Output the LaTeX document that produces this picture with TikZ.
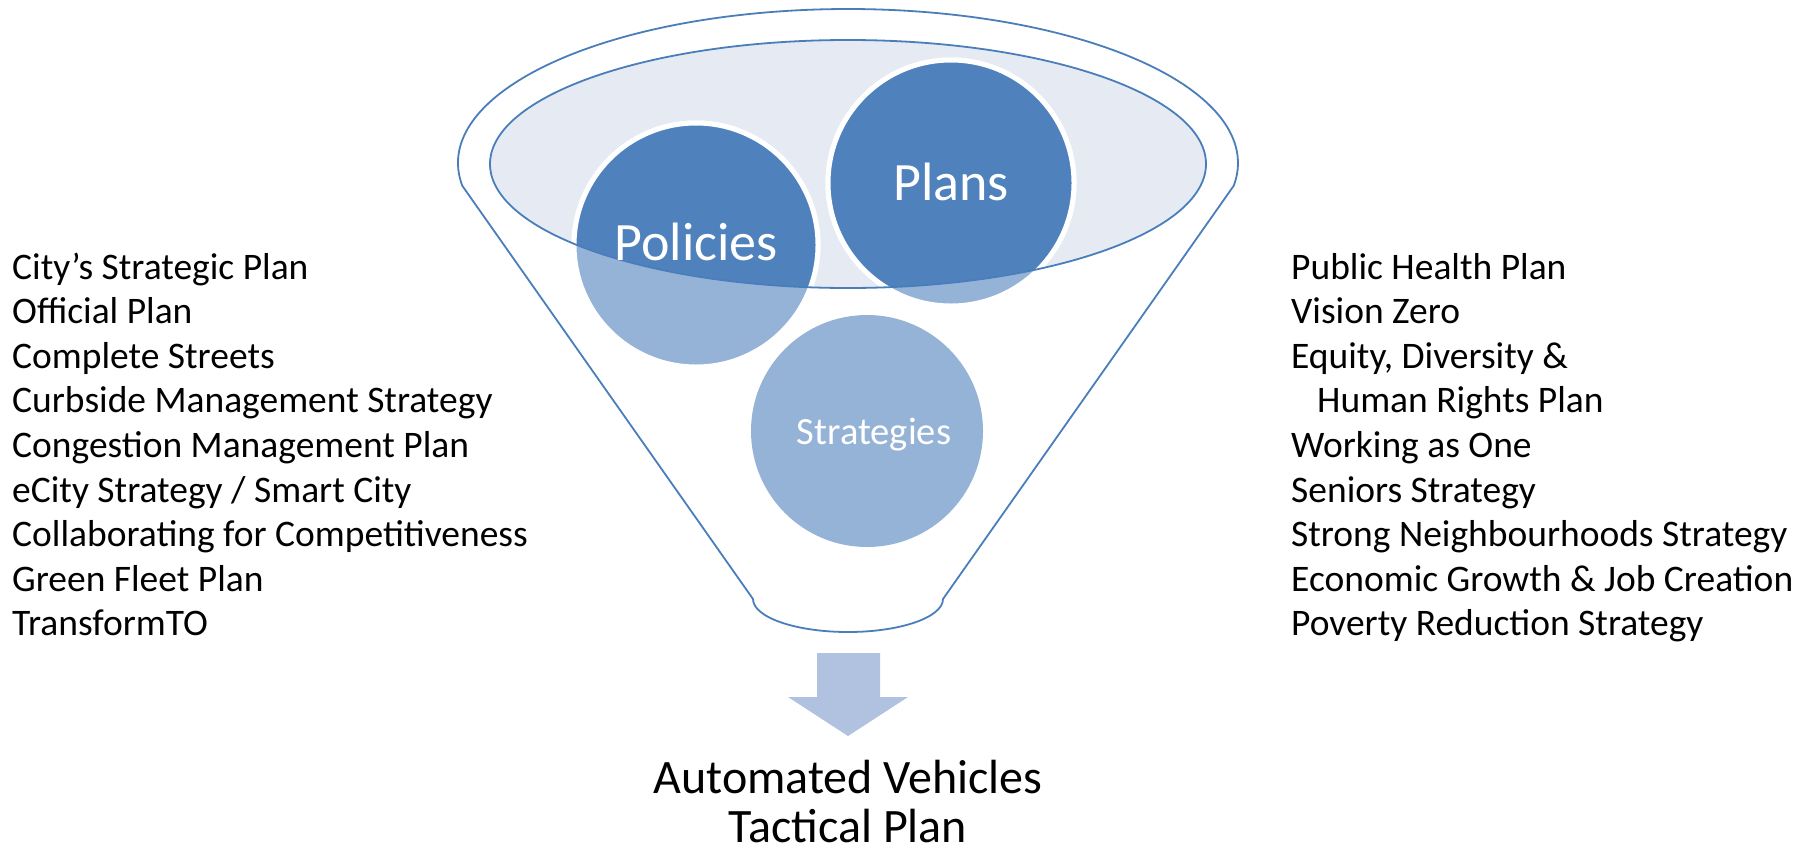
\documentclass[tikz,border=0pt]{standalone}
\usepackage{fontspec}
\setmainfont{Carlito}
\usetikzlibrary{calc}
\definecolor{dk}{HTML}{4F81BD}
\definecolor{lt}{HTML}{95B3D7}
\definecolor{ellfill}{HTML}{E5EAF3}
\definecolor{ln}{HTML}{4A7EBB}
\definecolor{arr}{HTML}{B0C2DF}
\begin{document}
\begin{tikzpicture}[x=1pt,y=1pt,
  rim/.style={draw=ln,line width=1.8pt},
  bubble/.style={circle,fill=lt,draw=white,line width=5pt,inner sep=0pt,minimum size=#1},
  darkbubble/.style={fill=dk,draw=white,line width=5pt},
  listtext/.style={anchor=base west,inner sep=0pt,font=\fontsize{37.5}{44}\selectfont},
  bubtext/.style={anchor=base,inner sep=0pt,text=white},
  outtext/.style={anchor=base,inner sep=0pt,font=\fontsize{48}{52}\selectfont}]
\useasboundingbox (0,0) rectangle (1798,-849);
% funnel outline
\draw[rim,line join=round] (753,-599) -- ($(848,-163)+(188.5:390 and 154)$)
  arc[start angle=188.5,end angle=-8.5,x radius=390,y radius=154]
  -- (943,-599) arc[start angle=0,end angle=-180,x radius=95,y radius=33] -- cycle;
% inner ellipse fill
\fill[ellfill] (848,-164) ellipse[x radius=358,y radius=124];
% circles (light)
\node[bubble=244] (pol) at (696,-245) {};
\node[bubble=246] (pla) at (951,-183) {};
\node[circle,fill=lt,inner sep=0pt,minimum size=232] (str) at (867,-431) {};
% dark parts inside the ellipse
\begin{scope}
  \clip (848,-164) ellipse[x radius=358,y radius=124];
  \path[darkbubble] (pol.center) circle[radius=122];
  \path[darkbubble] (pla.center) circle[radius=123];
\end{scope}
\draw[rim] (848,-164) ellipse[x radius=358,y radius=124];
% circle labels
\node[bubtext,font=\fontsize{54}{60}\selectfont] (polt) at (696,-260) {Policies};
\node[bubtext,font=\fontsize{54}{60}\selectfont] (plat) at (951,-200) {Plans};
\node[bubtext,font=\fontsize{38.5}{44}\selectfont] (strt) at (874,-444) {Strategies};
% arrow
\fill[arr] (817,-653) -- (880,-653) -- (880,-697) -- (908,-697) -- (848,-736)
  -- (788,-697) -- (817,-697) -- cycle;
% output text
\node[outtext] (out1) at (848,-793) {Automated Vehicles};
\node[outtext] (out2) at (848,-842) {Tactical Plan};
% left list
\node[listtext] (l1) at (12,-279) {City’s Strategic Plan};
\node[listtext] (l2) at (12,-323.6) {Official Plan};
\node[listtext] (l3) at (12,-368.2) {Complete Streets};
\node[listtext] (l4) at (12,-412.8) {Curbside Management Strategy};
\node[listtext] (l5) at (12,-457.4) {Congestion Management Plan};
\node[listtext] (l6) at (12,-502) {eCity Strategy / Smart City};
\node[listtext] (l7) at (12,-546.6) {Collaborating for Competitiveness};
\node[listtext] (l8) at (12,-591.2) {Green Fleet Plan};
\node[listtext] (l9) at (12,-635.8) {TransformTO};
% right list
\node[listtext] (r1) at (1291,-279) {Public Health Plan};
\node[listtext] (r2) at (1291,-323.6) {Vision Zero};
\node[listtext] (r3) at (1291,-368.2) {Equity, Diversity \&};
\node[listtext] (r4) at (1317,-412.8) {Human Rights Plan};
\node[listtext] (r5) at (1291,-457.4) {Working as One};
\node[listtext] (r6) at (1291,-502) {Seniors Strategy};
\node[listtext] (r7) at (1291,-546.6) {Strong Neighbourhoods Strategy};
\node[listtext] (r8) at (1291,-591.2) {Economic Growth \& Job Creation};
\node[listtext] (r9) at (1291,-635.8) {Poverty Reduction Strategy};
\end{tikzpicture}
\end{document}
